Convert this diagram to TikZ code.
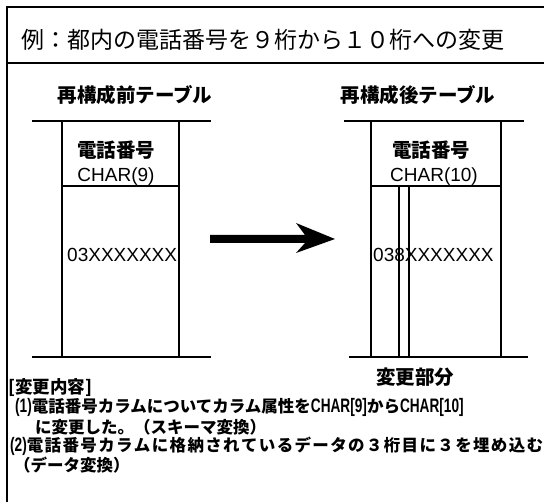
\documentclass[tikz,border=0pt]{standalone}
\usepackage{fontspec}
\usepackage{graphicx}
\setmainfont{Liberation Sans}
\newfontfamily\jp{Noto Sans CJK JP}
\newfontfamily\latb{Liberation Sans}
\newcommand{\narrowlat}[1]{\scalebox{0.7}[1]{\latb\bfseries\fontsize{19.5}{19.5}\selectfont #1}}
\begin{document}
\begin{tikzpicture}[x=1pt,y=-1pt,
  ln/.style={line width=1.6pt},
  frame/.style={line width=1.8pt},
  ttl/.style={font=\jp\fontsize{23}{23}\selectfont, inner sep=0pt, anchor=west},
  hdr/.style={font=\jp\bfseries\fontsize{19.5}{19.5}\selectfont, inner sep=0pt},
  col/.style={font=\fontsize{19}{19}\selectfont, inner sep=0pt},
  val/.style={font=\fontsize{19}{19}\selectfont, inner sep=0pt, anchor=west},
  note/.style={font=\jp\bfseries\fontsize{16.5}{16.5}\selectfont, inner sep=0pt, anchor=west}]
\useasboundingbox (0,0) rectangle (544,502);
% frame
\draw[frame] (7,502) -- (7,7) -- (544,7);
\draw[frame] (7,63) -- (544,63);
\node[ttl] (title) at (21,40) {例：都内の電話番号を９桁から１０桁への変更};
% left table
\node[hdr] (lbefore) at (135,95) {再構成前テーブル};
\draw[ln] (32,121) -- (211,121);
\draw[ln] (32,357) -- (211,357);
\draw[ln] (62,121) -- (62,357);
\draw[ln] (179,121) -- (179,357);
\draw[ln] (62,186) -- (179,186);
\node[hdr] (lname) at (116,150) {電話番号};
\node[col] (ltype) at (116,177) {CHAR(9)};
\begin{scope}
\clip (63,190) rectangle (180,330);
\node[val] (lval) at (67,255) {03XXXXXXX};
\end{scope}
% arrow
\fill (210,235) -- (305,235) -- (296,223) -- (335,239) -- (296,253) -- (305,243) -- (210,243) -- cycle;
% right table
\node[hdr] (lafter) at (418,95) {再構成後テーブル};
\draw[ln] (344,121) -- (524,121);
\draw[ln] (349,357) -- (528,357);
\draw[ln] (371,121) -- (371,357);
\draw[ln] (501,121) -- (501,357);
\draw[ln] (371,186) -- (501,186);
\draw[ln] (399,186) -- (399,357);
\draw[ln] (409,186) -- (409,357);
\node[hdr] (rname) at (431,150) {電話番号};
\node[col] (rtype) at (434,177) {CHAR(10)};
\node[val] (rval) at (373,255) {038XXXXXXX};
\node[hdr] (chg) at (415,377) {変更部分};
% notes
\node[note, font=\jp\bfseries\fontsize{17.5}{17.5}\selectfont] (n0) at (8,388) {[変更内容]};
\node[note] (n1) at (15,407) {\narrowlat{(1)}電話番号カラムについてカラム属性を\narrowlat{CHAR[9]}から\narrowlat{CHAR[10]}};
\node[note] (n2) at (35,427) {に変更した。（スキーマ変換）};
\node[note] (n3) at (10,446) {\makebox[533pt][s]{\narrowlat{(2)}電\hfil 話\hfil 番\hfil 号\hfil カ\hfil ラ\hfil ム\hfil に\hfil 格\hfil 納\hfil さ\hfil れ\hfil て\hfil い\hfil る\hfil デ\hfil ー\hfil タ\hfil の\hfil ３\hfil 桁\hfil 目\hfil に\hfil ３\hfil を\hfil 埋\hfil め\hfil 込\hfil む}};
\node[note] (n4) at (14,465) {（データ変換）};
\end{tikzpicture}
\end{document}
